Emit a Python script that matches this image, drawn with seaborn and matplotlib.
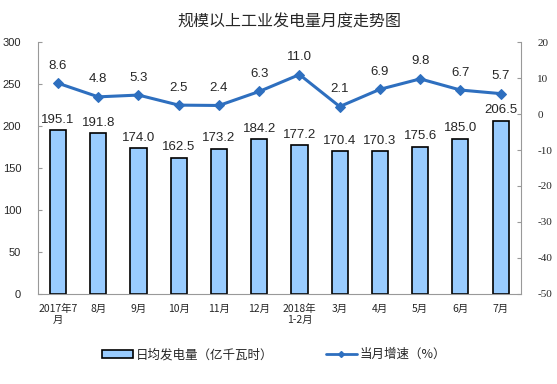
import numpy as np
import pandas as pd
import matplotlib
matplotlib.use('Agg')
import matplotlib.pyplot as plt
import seaborn as sns
from matplotlib.patches import Patch
from matplotlib.lines import Line2D

# data
months = ['2017年7\n月', '8月', '9月', '10月', '11月', '12月', '2018年\n1-2月',
          '3月', '4月', '5月', '6月', '7月']
daily_output = [195.1, 191.8, 174.0, 162.5, 173.2, 184.2, 177.2, 170.4, 170.3, 175.6, 185.0, 206.5]
growth = [8.6, 4.8, 5.3, 2.5, 2.4, 6.3, 11.0, 2.1, 6.9, 9.8, 6.7, 5.7]

df = pd.DataFrame({'month': months, 'output': daily_output, 'growth': growth})
df['pos'] = np.arange(len(df))

sns.set_style('white')
plt.rcParams['font.family'] = ['Noto Sans CJK SC', 'DejaVu Sans']
plt.rcParams['axes.unicode_minus'] = False

fig, ax = plt.subplots(figsize=(5.57, 3.84), dpi=100)
fig.subplots_adjust(left=0.068, right=0.935, top=0.89, bottom=0.235)

# bars: daily generation
sns.barplot(data=df, x='pos', y='output', ax=ax, color='#99ccff', saturation=1,
            width=0.4, edgecolor='black', linewidth=1.2, order=df['pos'])
ax.set_ylim(0, 300)
ax.set_xlim(-0.5, len(df) - 0.5)
ax.set_yticks(range(0, 301, 50))
ax.set_xticks(df['pos'])
ax.set_xticklabels(df['month'], fontsize=7.5, linespacing=1.2)
ax.set_xlabel('')
ax.set_ylabel('')
for lbl in ax.get_yticklabels():
    lbl.set_family('Liberation Sans')
    lbl.set_fontsize(8)
for p, v in zip(df['pos'], df['output']):
    ax.text(p, v + 5, f'{v:.1f}', ha='center', va='bottom', fontsize=9.5, family='Liberation Sans')

# line: monthly growth
ax2 = ax.twinx()
sns.lineplot(data=df, x='pos', y='growth', ax=ax2, color='#2e6fbf', linewidth=2.2,
             marker='D', markersize=5.5, markeredgecolor='#2e6fbf')
ax2.set_ylim(-50, 20)
ax2.set_yticks(range(-50, 21, 10))
ax2.set_ylabel('')
for lbl in ax2.get_yticklabels():
    lbl.set_family('Liberation Serif')
    lbl.set_fontsize(8)
for p, v in zip(df['pos'], df['growth']):
    ax2.text(p, v + 3.2, f'{v:.1f}', ha='center', va='bottom', fontsize=9.5, family='Liberation Sans')

for a in (ax, ax2):
    a.spines['top'].set_visible(False)
    for s in ['left', 'right', 'bottom']:
        a.spines[s].set_color('#999999')
        a.spines[s].set_linewidth(0.8)
ax.spines['right'].set_visible(False)
ax2.spines['left'].set_visible(False)
ax2.spines['bottom'].set_visible(False)
ax.tick_params(axis='y', direction='in', length=3, color='#999999', left=True, pad=12)
ax.tick_params(axis='x', length=0, pad=7)
ax2.tick_params(axis='y', direction='in', length=3, color='#999999', right=True, pad=12)

fig.suptitle('规模以上工业发电量月度走势图', fontsize=11.5, y=0.965, x=0.52)

handles = [Patch(facecolor='#99ccff', edgecolor='black', linewidth=1.2),
           Line2D([], [], color='#2e6fbf', linewidth=2, marker='D', markersize=3)]
fig.legend(handles, ['日均发电量（亿千瓦时）', '当月增速（%）'], loc='lower center',
           bbox_to_anchor=(0.492, 0.03), ncol=2, frameon=False, fontsize=9,
           handlelength=2.5, handleheight=0.6, columnspacing=4.2, handletextpad=0.2)

fig.savefig('out.png', dpi=100)
